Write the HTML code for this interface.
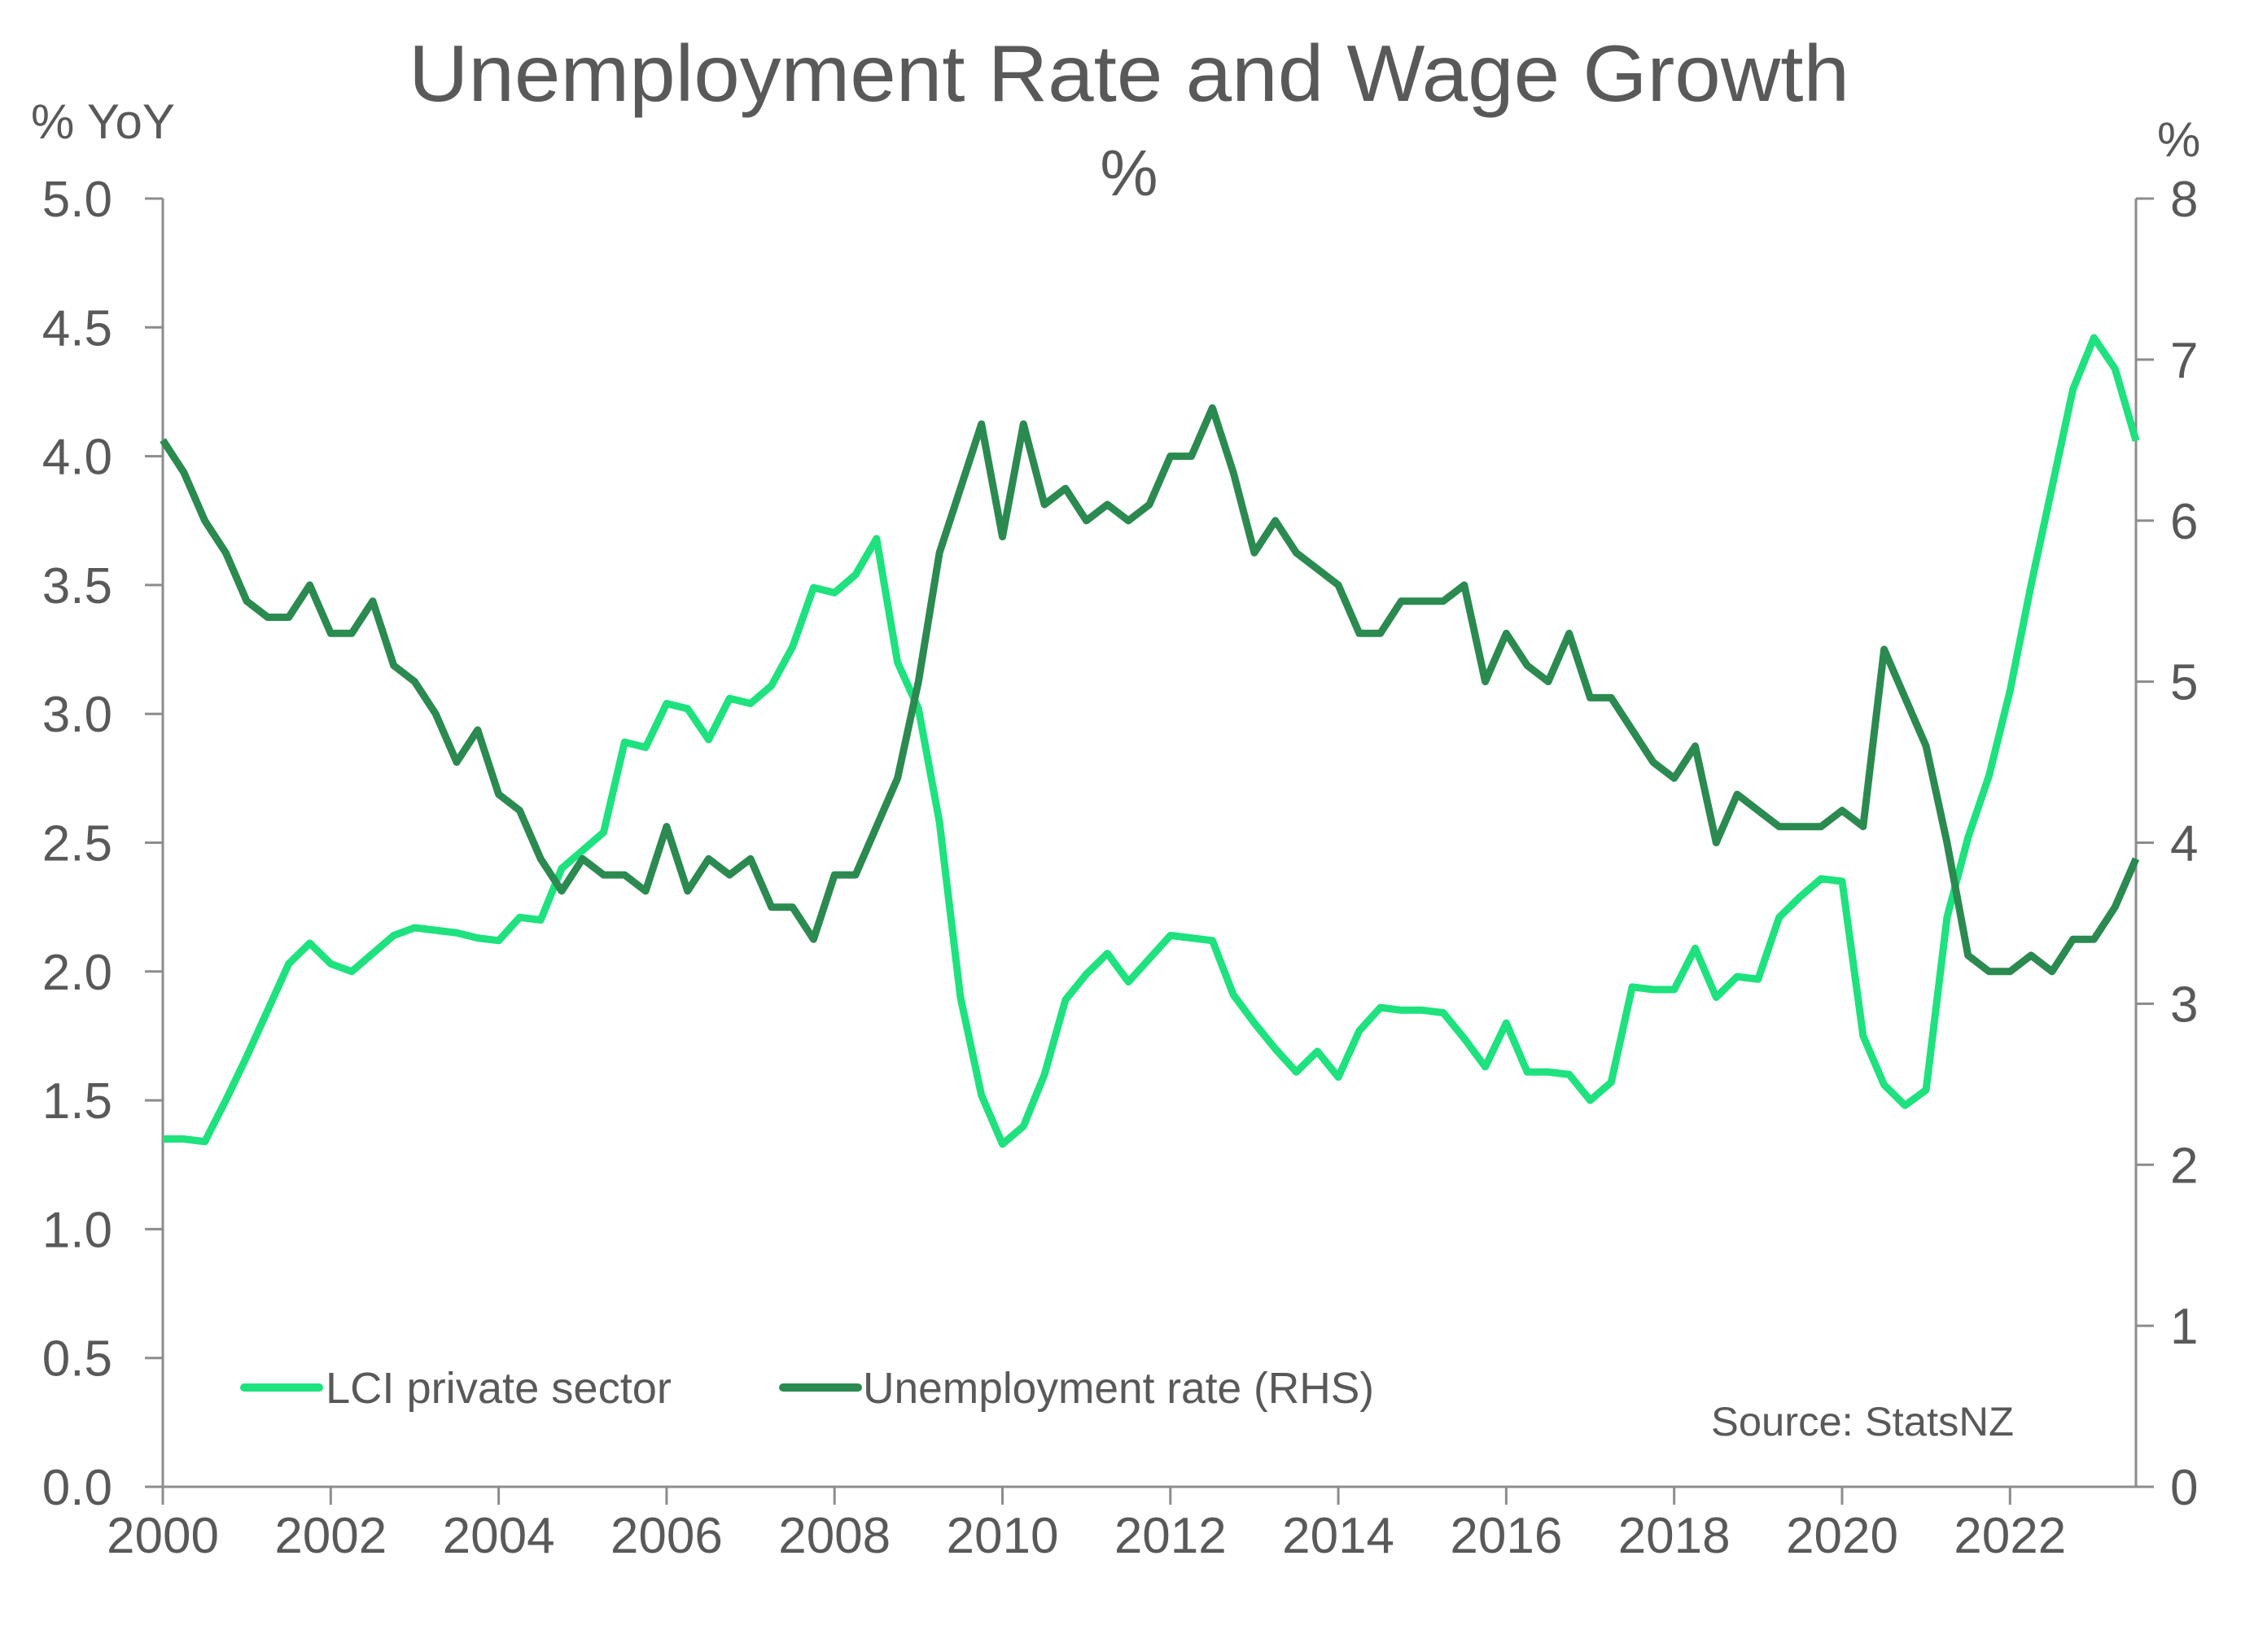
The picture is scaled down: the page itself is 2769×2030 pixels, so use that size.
<!DOCTYPE html>
<html><head><meta charset="utf-8"><style>
body{margin:0;background:#fff}
svg{display:block}
text{font-family:"Liberation Sans",sans-serif;fill:#595959}
</style></head><body>
<svg id="chart" width="2769" height="2030" viewBox="0 0 2769 2030">
<text x="1387" y="124" font-size="98" text-anchor="middle" textLength="1770" lengthAdjust="spacingAndGlyphs">Unemployment Rate and Wage Growth</text>
<text x="1387" y="240" font-size="80" text-anchor="middle">%</text>
<text x="38" y="170" font-size="60">% YoY</text>
<text x="2650" y="192" font-size="60">%</text>
<g id="axes"></g>
<g id="series"></g>
<g>
<line x1="300" y1="1705" x2="392" y2="1705" stroke="#1de27e" stroke-width="10" stroke-linecap="round"/>
<text x="400" y="1724" font-size="54" textLength="425" lengthAdjust="spacingAndGlyphs">LCI private sector</text>
<line x1="962" y1="1705" x2="1054" y2="1705" stroke="#2b8a50" stroke-width="10" stroke-linecap="round"/>
<text x="1060" y="1724" font-size="54" textLength="628" lengthAdjust="spacingAndGlyphs">Unemployment rate (RHS)</text>
</g>
<text x="2474" y="1764" font-size="50" text-anchor="end" textLength="372" lengthAdjust="spacingAndGlyphs">Source: StatsNZ</text>
</svg>
<script>
const leftTicks=["0.0","0.5","1.0","1.5","2.0","2.5","3.0","3.5","4.0","4.5","5.0"];
const rightTicks=["0","1","2","3","4","5","6","7","8"];
const yearTicks=["2000","2002","2004","2006","2008","2010","2012","2014","2016","2018","2020","2022"];
const startYear=2000;
const lciValues=[1.35,1.35,1.34,1.5,1.67,1.85,2.03,2.11,2.03,2.00,2.07,2.14,2.17,2.16,2.15,2.13,2.12,2.21,2.20,2.40,2.47,2.54,2.89,2.87,3.04,3.02,2.90,3.06,3.04,3.11,3.26,3.49,3.47,3.54,3.68,3.20,3.02,2.58,1.90,1.52,1.33,1.40,1.60,1.89,1.99,2.07,1.96,2.05,2.14,2.13,2.12,1.91,1.80,1.70,1.61,1.69,1.59,1.77,1.86,1.85,1.85,1.84,1.74,1.63,1.80,1.61,1.61,1.60,1.50,1.57,1.94,1.93,1.93,2.09,1.90,1.98,1.97,2.21,2.29,2.36,2.35,1.75,1.56,1.48,1.54,2.21,2.52,2.76,3.09,3.50,3.88,4.26,4.46,4.34,4.06];
const unempValues=[6.5,6.3,6.0,5.8,5.5,5.4,5.4,5.6,5.3,5.3,5.5,5.1,5.0,4.8,4.5,4.7,4.3,4.2,3.9,3.7,3.9,3.8,3.8,3.7,4.1,3.7,3.9,3.8,3.9,3.6,3.6,3.4,3.8,3.8,4.1,4.4,5.0,5.8,6.2,6.6,5.9,6.6,6.1,6.2,6.0,6.1,6.0,6.1,6.4,6.4,6.7,6.3,5.8,6.0,5.8,5.7,5.6,5.3,5.3,5.5,5.5,5.5,5.6,5.0,5.3,5.1,5.0,5.3,4.9,4.9,4.7,4.5,4.4,4.6,4.0,4.3,4.2,4.1,4.1,4.1,4.2,4.1,5.2,4.9,4.6,4.0,3.3,3.2,3.2,3.3,3.2,3.4,3.4,3.6,3.9];

const NS="http://www.w3.org/2000/svg";
const X0=200,X1=2624,Y0=1827,Y1=244;
const xScale=t=>X0+(t-startYear)*(X1-X0)/23.5;
const yL=v=>Y0-v*(Y0-Y1)/5;
const yR=v=>Y0-v*(Y0-Y1)/8;
function mk(tag,attrs,parent){const e=document.createElementNS(NS,tag);for(const k in attrs)e.setAttribute(k,attrs[k]);parent.appendChild(e);return e;}
const axes=document.getElementById('axes');
const stroke={stroke:"#8c8c8c","stroke-width":3};
let e;
e=mk('line',Object.assign({x1:X0,y1:Y1,x2:X0,y2:Y0},stroke),axes);


e=mk('line',Object.assign({x1:X1,y1:Y1,x2:X1,y2:Y0},stroke),axes);


e=mk('line',Object.assign({x1:X0-22,y1:Y0,x2:X1,y2:Y0},stroke),axes);


leftTicks.forEach(s=>{const v=parseFloat(s),y=yL(v);
 mk('line',Object.assign({x1:X0-22,y1:y,x2:X0,y2:y},stroke),axes);
 const t=mk('text',{x:138,y:y+22,"font-size":62,"text-anchor":"end"},axes);t.textContent=s;
 
 });
rightTicks.forEach(s=>{const v=parseFloat(s),y=yR(v);
 mk('line',Object.assign({x1:X1,y1:y,x2:X1+22,y2:y},stroke),axes);
 const t=mk('text',{x:2666,y:y+22,"font-size":62},axes);t.textContent=s;
 
 });
yearTicks.forEach(s=>{const x=xScale(parseFloat(s));
 mk('line',Object.assign({x1:x,y1:Y0,x2:x,y2:Y0+22},stroke),axes);
 const t=mk('text',{x:x,y:1908,"font-size":62,"text-anchor":"middle"},axes);t.textContent=s;
 
 });
const ser=document.getElementById('series');
function path(vals,ys){return vals.map((v,i)=>(i?'L':'M')+xScale(startYear+i/4).toFixed(1)+' '+ys(v).toFixed(1)).join(' ');}
e=mk('path',{d:path(lciValues,yL),fill:"none",stroke:"#1de27e","stroke-width":9,"stroke-linejoin":"round"},ser);


e=mk('path',{d:path(unempValues,yR),fill:"none",stroke:"#2b8a50","stroke-width":9,"stroke-linejoin":"round"},ser);


</script>
</body></html>
